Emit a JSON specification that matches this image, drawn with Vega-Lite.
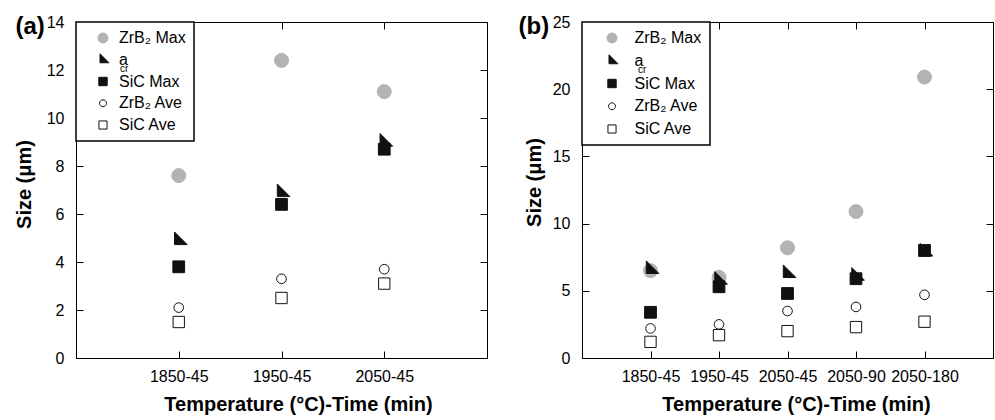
{
  "$schema": "https://vega.github.io/schema/vega-lite/v6.json",
  "background": "white",
  "padding": {"left": 13, "top": 13, "right": 0, "bottom": 0},
  "bounds": "flush",
  "spacing": 95,
  "resolve": {"scale": {"shape": "independent", "fill": "independent", "stroke": "independent", "opacity": "independent"}, "legend": {"shape": "independent", "fill": "independent", "stroke": "independent", "opacity": "independent"}},
  "datasets": {
    "a": [
      {"cond": "1850-45", "series": "ZrB2 Max", "size": 7.6},
      {"cond": "1950-45", "series": "ZrB2 Max", "size": 12.4},
      {"cond": "2050-45", "series": "ZrB2 Max", "size": 11.1},
      {"cond": "1850-45", "series": "a_cr", "size": 4.9},
      {"cond": "1950-45", "series": "a_cr", "size": 6.9},
      {"cond": "2050-45", "series": "a_cr", "size": 9.0},
      {"cond": "1850-45", "series": "SiC Max", "size": 3.8},
      {"cond": "1950-45", "series": "SiC Max", "size": 6.4},
      {"cond": "2050-45", "series": "SiC Max", "size": 8.7},
      {"cond": "1850-45", "series": "ZrB2 Ave", "size": 2.1},
      {"cond": "1950-45", "series": "ZrB2 Ave", "size": 3.3},
      {"cond": "2050-45", "series": "ZrB2 Ave", "size": 3.7},
      {"cond": "1850-45", "series": "SiC Ave", "size": 1.5},
      {"cond": "1950-45", "series": "SiC Ave", "size": 2.5},
      {"cond": "2050-45", "series": "SiC Ave", "size": 3.1}
    ],
    "b": [
      {"cond": "1850-45", "series": "ZrB2 Max", "size": 6.5},
      {"cond": "1950-45", "series": "ZrB2 Max", "size": 6.0},
      {"cond": "2050-45", "series": "ZrB2 Max", "size": 8.2},
      {"cond": "2050-90", "series": "ZrB2 Max", "size": 10.9},
      {"cond": "2050-180", "series": "ZrB2 Max", "size": 20.9},
      {"cond": "1850-45", "series": "a_cr", "size": 6.6},
      {"cond": "1950-45", "series": "a_cr", "size": 5.8},
      {"cond": "2050-45", "series": "a_cr", "size": 6.3},
      {"cond": "2050-90", "series": "a_cr", "size": 6.1},
      {"cond": "2050-180", "series": "a_cr", "size": 7.9},
      {"cond": "1850-45", "series": "SiC Max", "size": 3.4},
      {"cond": "1950-45", "series": "SiC Max", "size": 5.3},
      {"cond": "2050-45", "series": "SiC Max", "size": 4.8},
      {"cond": "2050-90", "series": "SiC Max", "size": 5.9},
      {"cond": "2050-180", "series": "SiC Max", "size": 8.0},
      {"cond": "1850-45", "series": "ZrB2 Ave", "size": 2.2},
      {"cond": "1950-45", "series": "ZrB2 Ave", "size": 2.5},
      {"cond": "2050-45", "series": "ZrB2 Ave", "size": 3.5},
      {"cond": "2050-90", "series": "ZrB2 Ave", "size": 3.8},
      {"cond": "2050-180", "series": "ZrB2 Ave", "size": 4.7},
      {"cond": "1850-45", "series": "SiC Ave", "size": 1.2},
      {"cond": "1950-45", "series": "SiC Ave", "size": 1.7},
      {"cond": "2050-45", "series": "SiC Ave", "size": 2.0},
      {"cond": "2050-90", "series": "SiC Ave", "size": 2.3},
      {"cond": "2050-180", "series": "SiC Ave", "size": 2.7}
    ]
  },
  "hconcat": [
    {
      "width": 411,
      "height": 336,
      "data": {"name": "a"},
      "transform": [{"calculate": "datum.series == 'a_cr' ? 'cr' : ''", "as": "sub"}],
      "resolve": {"axis": {"x": "independent", "y": "independent"}},
      "layer": [
        {
          "mark": {"type": "point", "opacity": 1, "strokeWidth": 1, "size": 196},
          "encoding": {
            "x": {"field": "cond", "type": "ordinal", "sort": null, "scale": {"type": "point", "padding": 1},
                  "axis": {"labelAngle": 0, "labelPadding": 17, "title": "Temperature (°C)-Time (min)", "titlePadding": 10, "titleX": 222}},
            "y": {"field": "size", "type": "quantitative", "scale": {"domain": [0, 14], "nice": false, "zero": true},
                  "axis": {"values": [0, 2, 4, 6, 8, 10, 12, 14], "labelPadding": 19, "title": "Size (μm)", "titlePadding": 12, "titleY": 162}},
            "shape": {"field": "series", "type": "nominal", "sort": null,
              "scale": {"domain": ["ZrB2 Max", "a_cr", "SiC Max", "ZrB2 Ave", "SiC Ave"], "range": ["circle", "M-0.6,-1.2L-0.6,0.6L1.2,0.6Z", "M-0.84,-0.84L0.84,-0.84L0.84,0.84L-0.84,0.84Z", "M0.69,0A0.69,0.69 0 1,1 -0.69,0A0.69,0.69 0 1,1 0.69,0Z", "M-0.81,-0.81L0.81,-0.81L0.81,0.81L-0.81,0.81Z"]},
              "legend": {"title": null, "orient": "none", "legendX": 0, "legendY": 0, "padding": 8, "symbolOffset": 11, "labelOffset": 8, "rowPadding": 5.75, "labelFontSize": 16, "strokeColor": "black", "fillColor": "white", "labelExpr": "datum.label == 'a_cr' ? 'a' : replace(datum.label, 'ZrB2', 'ZrB₂')"}},
            "fill": {"field": "series", "type": "nominal", "sort": null,
              "scale": {"domain": ["ZrB2 Max", "a_cr", "SiC Max", "ZrB2 Ave", "SiC Ave"], "range": ["#b3b3b3", "#111111", "#111111", "white", "white"]},
              "legend": {"title": null, "orient": "none", "legendX": 0, "legendY": 0, "padding": 8, "symbolOffset": 11, "labelOffset": 8, "rowPadding": 5.75, "labelFontSize": 16, "strokeColor": "black", "fillColor": "white", "labelExpr": "datum.label == 'a_cr' ? 'a' : replace(datum.label, 'ZrB2', 'ZrB₂')"}},
            "stroke": {"field": "series", "type": "nominal", "sort": null,
              "scale": {"domain": ["ZrB2 Max", "a_cr", "SiC Max", "ZrB2 Ave", "SiC Ave"], "range": ["#b3b3b3", "#111111", "#111111", "#111111", "#111111"]},
              "legend": {"title": null, "orient": "none", "legendX": 0, "legendY": 0, "padding": 8, "symbolOffset": 11, "labelOffset": 8, "rowPadding": 5.75, "labelFontSize": 16, "strokeColor": "black", "fillColor": "white", "labelExpr": "datum.label == 'a_cr' ? 'a' : replace(datum.label, 'ZrB2', 'ZrB₂')"}},
            "opacity": {"field": "sub", "type": "nominal",
              "scale": {"range": [1, 1]},
              "legend": {"title": null, "values": ["cr"], "orient": "none", "legendX": 34, "legendY": 41.5, "padding": 0, "symbolSize": 1, "symbolType": "M0,0", "symbolFillColor": "transparent", "symbolStrokeColor": "transparent", "symbolStrokeWidth": 0, "labelOffset": 0, "labelFontSize": 10, "strokeColor": "transparent", "fillColor": "transparent"}}
          }
        },
        {
          "mark": {"type": "point", "opacity": 0},
          "encoding": {
            "x": {"field": "cond", "type": "ordinal", "sort": null, "axis": {"orient": "top", "labels": false, "title": "(a)", "titleX": -61, "titleY": 11, "titleAlign": "left", "titleBaseline": "alphabetic", "titleAngle": 0, "titleFontSize": 24}},
            "y": {"field": "size", "type": "quantitative", "axis": {"orient": "right", "values": [0, 2, 4, 6, 8, 10, 12, 14], "labels": false, "title": null}}
          }
        }
      ]
    },
    {
      "width": 411,
      "height": 336,
      "data": {"name": "b"},
      "transform": [{"calculate": "datum.series == 'a_cr' ? 'cr' : ''", "as": "sub"}],
      "resolve": {"axis": {"x": "independent", "y": "independent"}},
      "layer": [
        {
          "mark": {"type": "point", "opacity": 1, "strokeWidth": 1, "size": 196},
          "encoding": {
            "x": {"field": "cond", "type": "ordinal", "sort": null, "scale": {"type": "point", "padding": 1},
                  "axis": {"labelAngle": 0, "labelPadding": 17, "title": "Temperature (°C)-Time (min)", "titlePadding": 10, "titleX": 214}},
            "y": {"field": "size", "type": "quantitative", "scale": {"domain": [0, 25], "nice": false, "zero": true},
                  "axis": {"values": [0, 5, 10, 15, 20, 25], "labelPadding": 19, "title": "Size (μm)", "titlePadding": 8, "titleY": 160}},
            "shape": {"field": "series", "type": "nominal", "sort": null,
              "scale": {"domain": ["ZrB2 Max", "a_cr", "SiC Max", "ZrB2 Ave", "SiC Ave"], "range": ["circle", "M-0.6,-1.2L-0.6,0.6L1.2,0.6Z", "M-0.84,-0.84L0.84,-0.84L0.84,0.84L-0.84,0.84Z", "M0.69,0A0.69,0.69 0 1,1 -0.69,0A0.69,0.69 0 1,1 0.69,0Z", "M-0.81,-0.81L0.81,-0.81L0.81,0.81L-0.81,0.81Z"]},
              "legend": {"title": null, "orient": "none", "legendX": 0, "legendY": 0, "padding": 8, "symbolOffset": 14, "labelOffset": 14.5, "rowPadding": 6.75, "labelFontSize": 16, "strokeColor": "black", "fillColor": "white", "labelExpr": "datum.label == 'a_cr' ? 'a' : replace(datum.label, 'ZrB2', 'ZrB₂')"}},
            "fill": {"field": "series", "type": "nominal", "sort": null,
              "scale": {"domain": ["ZrB2 Max", "a_cr", "SiC Max", "ZrB2 Ave", "SiC Ave"], "range": ["#b3b3b3", "#111111", "#111111", "white", "white"]},
              "legend": {"title": null, "orient": "none", "legendX": 0, "legendY": 0, "padding": 8, "symbolOffset": 14, "labelOffset": 14.5, "rowPadding": 6.75, "labelFontSize": 16, "strokeColor": "black", "fillColor": "white", "labelExpr": "datum.label == 'a_cr' ? 'a' : replace(datum.label, 'ZrB2', 'ZrB₂')"}},
            "stroke": {"field": "series", "type": "nominal", "sort": null,
              "scale": {"domain": ["ZrB2 Max", "a_cr", "SiC Max", "ZrB2 Ave", "SiC Ave"], "range": ["#b3b3b3", "#111111", "#111111", "#111111", "#111111"]},
              "legend": {"title": null, "orient": "none", "legendX": 0, "legendY": 0, "padding": 8, "symbolOffset": 14, "labelOffset": 14.5, "rowPadding": 6.75, "labelFontSize": 16, "strokeColor": "black", "fillColor": "white", "labelExpr": "datum.label == 'a_cr' ? 'a' : replace(datum.label, 'ZrB2', 'ZrB₂')"}},
            "opacity": {"field": "sub", "type": "nominal",
              "scale": {"range": [1, 1]},
              "legend": {"title": null, "values": ["cr"], "orient": "none", "legendX": 46, "legendY": 43, "padding": 0, "symbolSize": 1, "symbolType": "M0,0", "symbolFillColor": "transparent", "symbolStrokeColor": "transparent", "symbolStrokeWidth": 0, "labelOffset": 0, "labelFontSize": 10, "strokeColor": "transparent", "fillColor": "transparent"}}
          }
        },
        {
          "mark": {"type": "point", "opacity": 0},
          "encoding": {
            "x": {"field": "cond", "type": "ordinal", "sort": null, "axis": {"orient": "top", "labels": false, "title": "(b)", "titleX": -64, "titleY": 11, "titleAlign": "left", "titleBaseline": "alphabetic", "titleAngle": 0, "titleFontSize": 24}},
            "y": {"field": "size", "type": "quantitative", "axis": {"orient": "right", "values": [0, 5, 10, 15, 20, 25], "labels": false, "title": null}}
          }
        }
      ]
    }
  ],
  "config": {
    "view": {"stroke": "black", "strokeWidth": 1},
    "axis": {
      "domainColor": "black", "tickColor": "black", "tickSize": -7, "grid": false,
      "labelFont": "Liberation Sans", "labelFontSize": 16, "labelColor": "black",
      "titleFont": "Liberation Sans", "titleFontSize": 20, "titleFontWeight": "bold", "titleColor": "black"
    },
    "legend": {
      "strokeWidth": 1.5,
      "labelFont": "Liberation Sans", "labelColor": "black", "symbolStrokeWidth": 1
    }
  }
}
